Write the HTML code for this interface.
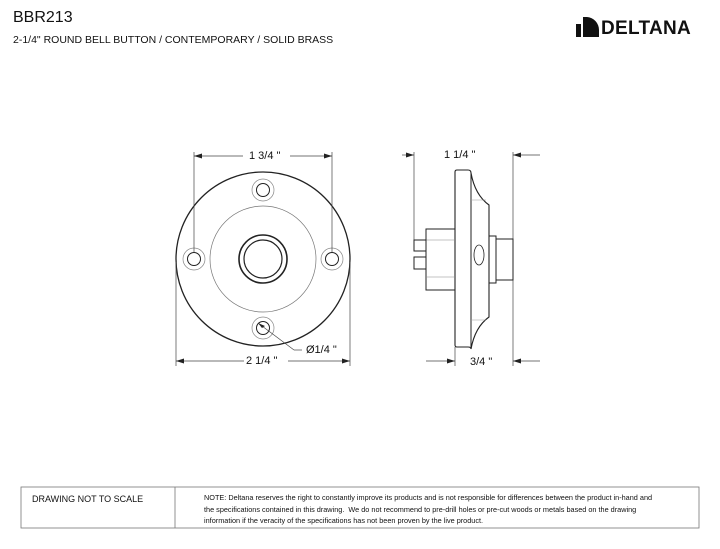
<!DOCTYPE html>
<html><head><style>
body{margin:0;width:720px;height:549px;background:#fff;position:relative;overflow:hidden;font-family:"Liberation Sans",sans-serif;color:#111}
.t{position:absolute;white-space:nowrap}
</style></head><body>
<div class="t" style="left:13px;top:9px;font-size:16px">BBR213</div>
<div class="t" style="left:13px;top:34px;font-size:10.5px">2-1/4" ROUND BELL BUTTON / CONTEMPORARY / SOLID BRASS</div>
<div class="t" style="left:601px;top:18px;font-size:19px;font-weight:bold;letter-spacing:0.3px">DELTANA</div>
<svg style="position:absolute;left:0;top:0" width="720" height="549">
<g fill="#111"><rect x="576" y="24" width="5" height="13"/><path d="M583 17 h4 a13 13 0 0 1 12 13 v7 h-16z"/></g>
<g fill="none" stroke="#222" stroke-width="1">
<circle cx="263" cy="259" r="87" stroke-width="1.3"/>
<circle cx="263" cy="259" r="53" stroke="#777" stroke-width="0.7"/>
<circle cx="263" cy="259" r="24" stroke-width="1.6"/>
<circle cx="263" cy="259" r="19" stroke-width="1.2"/>
<g stroke="#888" stroke-width="0.7"><circle cx="263" cy="190" r="11"/><circle cx="194" cy="259" r="11"/><circle cx="332" cy="259" r="11"/><circle cx="263" cy="328" r="11"/></g>
<circle cx="263" cy="190" r="6.5"/><circle cx="194" cy="259" r="6.5"/><circle cx="332" cy="259" r="6.5"/><circle cx="263" cy="328" r="6.5"/>
<g stroke-width="0.7" stroke="#444">
<line x1="194" y1="152" x2="194" y2="252"/><line x1="332" y1="152" x2="332" y2="252"/>
<line x1="194" y1="156" x2="243" y2="156"/><line x1="290" y1="156" x2="332" y2="156"/>
<line x1="176" y1="262" x2="176" y2="366"/><line x1="350" y1="262" x2="350" y2="366"/>
<line x1="176" y1="361" x2="244" y2="361"/><line x1="288" y1="361" x2="350" y2="361"/>
<line x1="258" y1="323" x2="294" y2="350"/><line x1="294" y1="350" x2="302" y2="350"/>
<line x1="414" y1="152" x2="414" y2="240"/><line x1="513" y1="152" x2="513" y2="366"/>
<line x1="402" y1="155" x2="414" y2="155"/><line x1="513" y1="155" x2="540" y2="155"/>
<line x1="455" y1="347" x2="455" y2="366"/>
<line x1="426" y1="361" x2="455" y2="361"/><line x1="513" y1="361" x2="540" y2="361"/>
</g>
<g fill="#222" stroke="none">
<path d="M194 156 l8 -2.5 v5z"/><path d="M332 156 l-8 -2.5 v5z"/>
<path d="M176 361 l8 -2.5 v5z"/><path d="M350 361 l-8 -2.5 v5z"/>
<path d="M414 155 l-8 -2.5 v5z"/><path d="M513 155 l8 -2.5 v5z"/>
<path d="M455 361 l-8 -2.5 v5z"/><path d="M513 361 l8 -2.5 v5z"/>
<path d="M258 323 l4 5 l3 -2z"/>
</g>
<path d="M455 172 q0 -2 2 -2 h11 q3 0 3 3 q4 22 18 32 v112 q-14 10 -18 32 q0 -2 -3 -2 h-11 q-2 0 -2 -2z" stroke-width="1.1"/>
<path d="M471 173 v174" stroke-width="1"/>
<rect x="426" y="229" width="29" height="61"/>
<line x1="426" y1="240" x2="455" y2="240" stroke="#888" stroke-width="0.6"/><line x1="426" y1="277" x2="455" y2="277" stroke="#888" stroke-width="0.6"/>
<rect x="414" y="240" width="12" height="11"/><rect x="414" y="257" width="12" height="12"/>
<rect x="489" y="236" width="7" height="47"/><rect x="496" y="239" width="17" height="41"/>
<ellipse cx="479" cy="255" rx="5" ry="10" stroke-width="0.8"/>
<g stroke="#999" stroke-width="0.5"><line x1="471" y1="200" x2="486" y2="200"/><line x1="471" y1="320" x2="486" y2="320"/></g>
</g>
<rect x="21" y="487" width="678" height="41" fill="none" stroke="#777" stroke-width="0.8"/>
<line x1="175" y1="487" x2="175" y2="528" stroke="#777" stroke-width="0.8"/>
</svg>
<div class="t" style="left:249px;top:150px;font-size:11px">1 3/4 "</div>
<div class="t" style="left:246px;top:355px;font-size:11px">2 1/4 "</div>
<div class="t" style="left:306px;top:344px;font-size:11px">Ø1/4 "</div>
<div class="t" style="left:444px;top:149px;font-size:11px">1 1/4 "</div>
<div class="t" style="left:470px;top:356px;font-size:11px">3/4 "</div>
<div class="t" style="left:32px;top:494px;font-size:9px">DRAWING NOT TO SCALE</div>
<div class="t" style="left:204px;top:492px;font-size:7.3px;line-height:11.5px">NOTE: Deltana reserves the right to constantly improve its products and is not responsible for differences between the product in-hand and<br>the specifications contained in this drawing.&nbsp; We do not recommend to pre-drill holes or pre-cut woods or metals based on the drawing<br>information if the veracity of the specifications has not been proven by the live product.</div>
</body></html>
